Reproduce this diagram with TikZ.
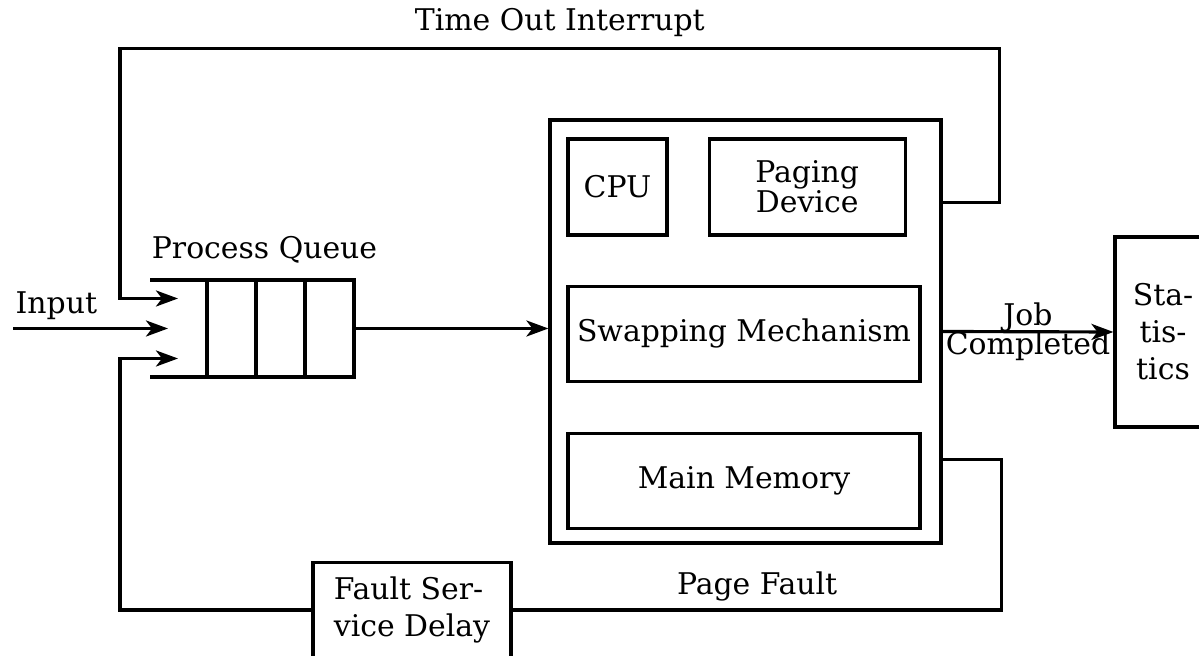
\documentclass[tikz,border=0pt]{standalone}
\usepackage{fontspec}
\setmainfont{DejaVu Serif}
\usetikzlibrary{arrows.meta, positioning, calc}

\begin{document}
\begin{tikzpicture}[
  unit/.style={rectangle, draw, line width=0.9pt, inner sep=2pt, align=center, font=\fontsize{8.5}{8.5}\selectfont},
  cell/.style={rectangle, draw, line width=0.9pt, minimum width=0.49cm, minimum height=0.97cm, inner sep=0pt, outer sep=0pt},
  flow/.style={-{Stealth[length=2.2mm, width=1.6mm, inset=0.6mm]}, line width=0.9pt},
  wire/.style={line width=0.9pt},
  flabel/.style={font=\fontsize{8.5}{8.5}\selectfont, inner sep=2pt, align=center},
]

\clip (0,0) rectangle (11.99,6.56);

% ── SYSTEM: outer box with CPU, paging device, swapper and memory ──
\node[unit, minimum width=3.91cm, minimum height=4.23cm] (sys) at (7.455,3.245) {};
\node[unit, minimum width=0.99cm, minimum height=0.96cm, anchor=north west] (cpu) at ([shift={(0.18,-0.19)}]sys.north west) {CPU};
\node[unit, minimum width=1.96cm, minimum height=0.96cm, right=0.39cm of cpu] (paging) {Paging\\Device};
\node[unit, minimum width=3.52cm, minimum height=0.95cm, below=0.48cm of cpu.south west, anchor=north west] (swap) {Swapping Mechanism};
\node[unit, minimum width=3.52cm, minimum height=0.95cm, below=0.49cm of swap] (mem) {Main Memory};

% ── PROCESS QUEUE: three cells, open on the left ──
\node[cell] (q1) at (2.315,3.275) {};
\node[cell, right=0pt of q1] (q2) {};
\node[cell, right=0pt of q2] (q3) {};
\draw[wire] (q1.north west) -- ++(-0.57,0);
\draw[wire] (q1.south west) -- ++(-0.57,0);
\node[flabel, above=0.09cm of q2.north, xshift=-0.16cm] (pqlabel) {Process Queue};
\coordinate (mouth) at ([xshift=-0.29cm]q1.west);

% ── STATISTICS and FAULT SERVICE ──
\node[unit, minimum width=0.96cm, minimum height=1.90cm, font=\fontsize{8.5}{10.5}\selectfont] (stats) at (11.63,3.24) {Sta-\\tis-\\tics};
\node[unit, minimum width=1.98cm, minimum height=0.95cm, align=left, font=\fontsize{8.5}{10.5}\selectfont] (fault) at (4.12,0.46) {Fault Ser-\\vice Delay};

% ── FLOWS ──
% Input -> queue
\coordinate (inp) at (0.13,3.275);
\draw[flow] (inp) -- node[flabel, above, pos=0.28]{Input} ([xshift=-0.10cm]mouth);

% Queue -> system
\draw[flow] (q3.east) -- (q3.east -| sys.west);

% System -> statistics
\draw[flow] (sys.east) -- node[flabel, inner sep=0pt]{Job\\Completed} (stats.west);

% Time out: up and over, back into the queue (top)
\coordinate (tout) at ([yshift=-0.84cm]sys.north east);
\draw[flow] (tout) -- ++(0.57,0) -- ++(0,1.54) -| node[flabel, above=1pt, pos=0.25]{Time Out Interrupt} ([shift={(-0.58,0.30)}]mouth) -- ([yshift=0.30cm]mouth);

% Page fault: down to the fault service, then back into the queue (bottom)
\coordinate (pf) at ([yshift=0.85cm]sys.south east);
\draw[wire] (pf) -- ++(0.59,0) |- node[flabel, above, pos=0.75]{Page Fault} (fault.east);
\draw[flow] (fault.west) -| ([shift={(-0.58,-0.30)}]mouth) -- ([yshift=-0.30cm]mouth);

\end{tikzpicture}
\end{document}
